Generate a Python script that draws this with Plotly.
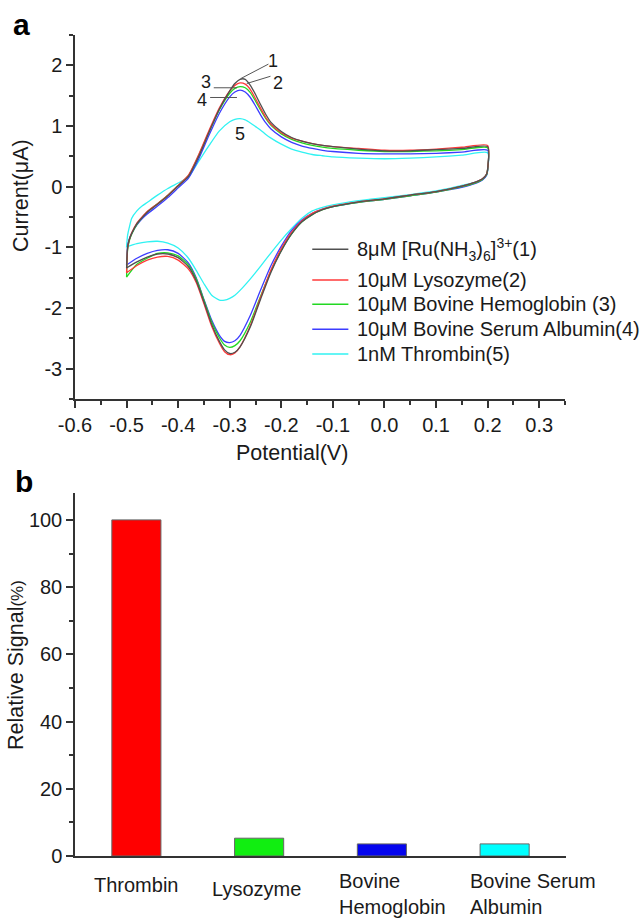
import plotly.graph_objects as go

# ---------------- data: panel a (cyclic voltammograms) ----------------
potential_cathodic = [0.2, 0.198, 0.19, 0.175, 0.15, 0.125, 0.1, 0.05, 0.0, -0.05, -0.1, -0.12, -0.14,
                      -0.16, -0.18, -0.2, -0.22, -0.24, -0.26, -0.28, -0.29, -0.3, -0.31, -0.32, -0.335,
                      -0.35, -0.365, -0.38, -0.4, -0.42, -0.44, -0.46, -0.48, -0.5]
potential_anodic = [-0.5, -0.498, -0.495, -0.49, -0.48, -0.47, -0.46, -0.44, -0.42, -0.4, -0.38, -0.36,
                    -0.34, -0.32, -0.3, -0.29, -0.28, -0.27, -0.26, -0.25, -0.24, -0.23, -0.22, -0.2,
                    -0.18, -0.16, -0.14, -0.12, -0.1, -0.05, 0.0, 0.05, 0.1, 0.15, 0.2]

ru_cathodic = [0.29, 0.21, 0.13, 0.07, 0.01, -0.04, -0.08, -0.14, -0.20, -0.25, -0.33, -0.38, -0.46,
               -0.58, -0.78, -1.06, -1.41, -1.85, -2.31, -2.64, -2.73, -2.75, -2.69, -2.55, -2.27,
               -1.90, -1.55, -1.32, -1.17, -1.11, -1.11, -1.16, -1.24, -1.34]
ru_anodic = [-1.34, -1.00, -0.88, -0.77, -0.61, -0.51, -0.42, -0.29, -0.15, 0.01, 0.17, 0.50, 0.90,
             1.28, 1.58, 1.70, 1.77, 1.77, 1.67, 1.52, 1.35, 1.19, 1.06, 0.91, 0.81, 0.75, 0.71, 0.68,
             0.66, 0.62, 0.59, 0.59, 0.61, 0.63, 0.66]

lys_cathodic = [0.29, 0.21, 0.13, 0.07, 0.01, -0.04, -0.08, -0.14, -0.20, -0.25, -0.32, -0.37, -0.44,
                -0.56, -0.75, -1.02, -1.37, -1.82, -2.29, -2.64, -2.74, -2.77, -2.72, -2.58, -2.30,
                -1.93, -1.58, -1.36, -1.21, -1.15, -1.16, -1.21, -1.30, -1.42]
lys_anodic = [-1.42, -1.02, -0.88, -0.76, -0.60, -0.50, -0.41, -0.28, -0.14, 0.02, 0.19, 0.53, 0.93,
              1.30, 1.58, 1.67, 1.71, 1.69, 1.60, 1.45, 1.29, 1.14, 1.03, 0.89, 0.80, 0.75, 0.71, 0.68,
              0.66, 0.63, 0.60, 0.60, 0.62, 0.65, 0.68]

hb_cathodic = [0.28, 0.20, 0.12, 0.06, 0.00, -0.05, -0.09, -0.15, -0.21, -0.26, -0.33, -0.38, -0.46,
               -0.58, -0.78, -1.05, -1.39, -1.80, -2.23, -2.54, -2.62, -2.65, -2.61, -2.49, -2.23,
               -1.87, -1.52, -1.29, -1.14, -1.09, -1.10, -1.18, -1.28, -1.49]
hb_anodic = [-1.49, -1.04, -0.90, -0.78, -0.62, -0.51, -0.42, -0.28, -0.14, 0.02, 0.18, 0.52, 0.91,
             1.27, 1.54, 1.62, 1.65, 1.63, 1.55, 1.41, 1.26, 1.12, 1.01, 0.87, 0.78, 0.72, 0.68, 0.65,
             0.63, 0.60, 0.58, 0.58, 0.59, 0.61, 0.64]

bsa_cathodic = [0.27, 0.19, 0.11, 0.05, -0.01, -0.05, -0.09, -0.15, -0.21, -0.26, -0.33, -0.37, -0.44,
                -0.55, -0.72, -0.98, -1.30, -1.70, -2.12, -2.45, -2.54, -2.57, -2.55, -2.45, -2.20,
                -1.86, -1.50, -1.26, -1.10, -1.04, -1.05, -1.10, -1.18, -1.29]
bsa_anodic = [-1.29, -0.98, -0.87, -0.77, -0.63, -0.53, -0.45, -0.32, -0.18, -0.02, 0.14, 0.46, 0.85,
              1.21, 1.48, 1.56, 1.59, 1.56, 1.47, 1.33, 1.18, 1.05, 0.95, 0.82, 0.73, 0.67, 0.63, 0.60,
              0.58, 0.55, 0.54, 0.54, 0.55, 0.57, 0.60]

thr_cathodic = [0.26, 0.19, 0.12, 0.07, 0.02, -0.03, -0.07, -0.13, -0.18, -0.23, -0.30, -0.34, -0.40,
                -0.52, -0.69, -0.88, -1.09, -1.31, -1.52, -1.71, -1.79, -1.84, -1.87, -1.87, -1.79,
                -1.60, -1.38, -1.18, -1.01, -0.93, -0.90, -0.91, -0.94, -0.99]
thr_anodic = [-0.99, -0.80, -0.68, -0.52, -0.40, -0.32, -0.26, -0.14, -0.03, 0.06, 0.16, 0.42, 0.68,
              0.92, 1.07, 1.11, 1.12, 1.10, 1.05, 0.99, 0.93, 0.86, 0.80, 0.70, 0.62, 0.57, 0.53, 0.51,
              0.49, 0.47, 0.46, 0.47, 0.49, 0.52, 0.56]

cv_names = ["8μM [Ru(NH<sub>3</sub>)<sub>6</sub>]<sup>3+</sup>(1)", "10μM Lysozyme(2)",
            "10μM Bovine Hemoglobin (3)", "10μM Bovine Serum Albumin(4)", "1nM Thrombin(5)"]
cv_colors = ["#505050", "#ff3a3a", "#22d822", "#3c3cff", "#30f2f2"]
cv_cathodic = [ru_cathodic, lys_cathodic, hb_cathodic, bsa_cathodic, thr_cathodic]
cv_anodic = [ru_anodic, lys_anodic, hb_anodic, bsa_anodic, thr_anodic]

x_tick_vals = [-0.6, -0.5, -0.4, -0.3, -0.2, -0.1, 0.0, 0.1, 0.2, 0.3]
x_tick_labels = ["-0.6", "-0.5", "-0.4", "-0.3", "-0.2", "-0.1", "0.0", "0.1", "0.2", "0.3"]
y_tick_vals = [-3, -2, -1, 0, 1, 2]
y_tick_labels = ["-3", "-2", "-1", "0", "1", "2"]

# ---------------- data: panel b (bars) ----------------
proteins = ["Thrombin", "Lysozyme", "Bovine Hemoglobin", "Bovine Serum Albumin"]
protein_labels = ["Thrombin", "Lysozyme", "Bovine<br>Hemoglobin", "Bovine Serum<br>Albumin"]
relative_signal = [100, 5.3, 3.6, 3.6]
bar_colors = ["#ff0000", "#11ee11", "#0505ee", "#00ffff"]
b_tick_vals = [0, 20, 40, 60, 80, 100]
b_tick_labels = ["0", "20", "40", "60", "80", "100"]

# ---------------- figure ----------------
W, H = 642, 918
FONT = "Liberation Sans, Arial, sans-serif"
AX = "#333333"


def fx(p):
    return p / W


def fy(p):
    return 1 - p / H


fig = go.Figure()

for i in reversed(range(5)):
    xs = potential_cathodic + potential_anodic + potential_cathodic[:1]
    ys = cv_cathodic[i] + cv_anodic[i] + cv_cathodic[i][:1]
    fig.add_trace(go.Scatter(x=xs, y=ys, mode="lines", name=cv_names[i],
                             line=dict(color=cv_colors[i], width=1.3, shape="spline", smoothing=0.6),
                             xaxis="x", yaxis="y", showlegend=False))

fig.add_trace(go.Bar(x=list(range(len(proteins))), y=relative_signal, width=0.4,
                     marker=dict(color=bar_colors, line=dict(color="#666666", width=1)),
                     xaxis="x2", yaxis="y2", showlegend=False, hovertext=proteins))

tick_font = dict(family=FONT, size=20, color="#1a1a1a")
common = dict(showline=True, linecolor=AX, linewidth=1.5, showgrid=False, zeroline=False,
              ticks="outside", ticklen=7, tickwidth=1.5, tickcolor=AX, tickfont=tick_font,
              automargin=False)

fig.update_layout(
    width=W, height=H, margin=dict(l=0, r=0, t=0, b=0),
    paper_bgcolor="white", plot_bgcolor="white",
    font=dict(family=FONT, size=20, color="#1a1a1a"),
    xaxis=dict(domain=[fx(75), fx(565)], anchor="y", range=[-0.6, 0.35],
               tickmode="array", tickvals=x_tick_vals, ticktext=x_tick_labels,
               minor=dict(ticks="outside", ticklen=4, tickwidth=1.5, tickcolor=AX,
                          tickmode="linear", tick0=-0.6, dtick=0.05, showgrid=False),
               **common),
    yaxis=dict(domain=[fy(399), fy(35)], anchor="x", range=[-3.5, 2.5],
               tickmode="array", tickvals=y_tick_vals, ticktext=y_tick_labels,
               ticklabelstandoff=0,
               minor=dict(ticks="outside", ticklen=4, tickwidth=1.5, tickcolor=AX,
                          tickmode="linear", tick0=-3.5, dtick=0.5, showgrid=False),
               **common),
    xaxis2=dict(domain=[fx(75), fx(566)], anchor="y2", range=[-0.5, 3.5],
                showline=True, linecolor=AX, linewidth=1.5, showgrid=False, zeroline=False,
                showticklabels=False, ticks=""),
    yaxis2=dict(domain=[fy(856), fy(493)], anchor="x2", range=[0, 108],
                tickmode="array", tickvals=b_tick_vals, ticktext=b_tick_labels,
                ticklabelstandoff=0,
                minor=dict(ticks="outside", ticklen=4, tickwidth=1.5, tickcolor=AX,
                           tickmode="linear", tick0=0, dtick=10, showgrid=False),
                **common),
)

ann = []
shapes = []


def pann(text, x, y, size=20, angle=0, bold=False):
    return dict(text=text, x=x, y=y, xref="paper", yref="paper", xanchor="center",
                yanchor="middle", textangle=angle, showarrow=False,
                font=dict(size=size, family=FONT, color="black" if bold else "#1a1a1a"))


# panel letters
ann.append(pann("<b>a</b>", fx(22), fy(24), size=30, bold=True))
ann.append(pann("<b>b</b>", fx(24), fy(481), size=30, bold=True))
# axis titles
ann.append(pann("Current(μA)", fx(21), fy(196), size=21.5, angle=-90))
ann.append(pann("Potential(V)", fx(292), fy(453), size=21.5))
ann.append(pann("Relative Signal<span style='font-size:17px'>(%)</span>", fx(16), fy(665),
                size=21.5, angle=-90))

# peak number labels and leader lines
peak_labels = [("1", -0.216, 2.07), ("2", -0.206, 1.71), ("3", -0.346, 1.72),
               ("4", -0.353, 1.43), ("5", -0.280, 0.86)]
for t, x, y in peak_labels:
    ann.append(dict(text=t, x=x, y=y, xref="x", yref="y", xanchor="center", yanchor="middle",
                    showarrow=False, font=dict(size=18, family=FONT, color="#1a1a1a")))
leaders = [(-0.225, 2.02, -0.279, 1.78), (-0.221, 1.82, -0.267, 1.70),
           (-0.331, 1.63, -0.286, 1.63), (-0.338, 1.47, -0.286, 1.47)]
for x0, y0, x1, y1 in leaders:
    shapes.append(dict(type="line", xref="x", yref="y", x0=x0, y0=y0, x1=x1, y1=y1,
                       line=dict(color="#555555", width=1)))

# manual legend
legend_rows = [-1.03, -1.54, -1.94, -2.35, -2.76]
for i, yr in enumerate(legend_rows):
    shapes.append(dict(type="line", xref="x", yref="y", x0=-0.140, x1=-0.070, y0=yr, y1=yr,
                       line=dict(color=cv_colors[i], width=1.5)))
    ann.append(dict(text=cv_names[i], x=-0.057, y=yr, xref="x", yref="y", xanchor="left",
                    yanchor="middle", showarrow=False, font=dict(size=20, family=FONT, color="#1a1a1a")))

# bar category labels
label_pos = [(0, 885, "center", 0), (1, 889, "center", -3), (2, 894, "left", -45), (3, 894, "left", -37)]
for (i, py, anchor, shift) in label_pos:
    ann.append(dict(text=protein_labels[i], x=i, y=fy(py), xref="x2", yref="paper",
                    xanchor=anchor, align="left", xshift=shift, yanchor="middle", showarrow=False,
                    font=dict(size=20, family=FONT, color="#1a1a1a")))

fig.update_layout(annotations=ann, shapes=shapes)
fig.write_html("out.html")
